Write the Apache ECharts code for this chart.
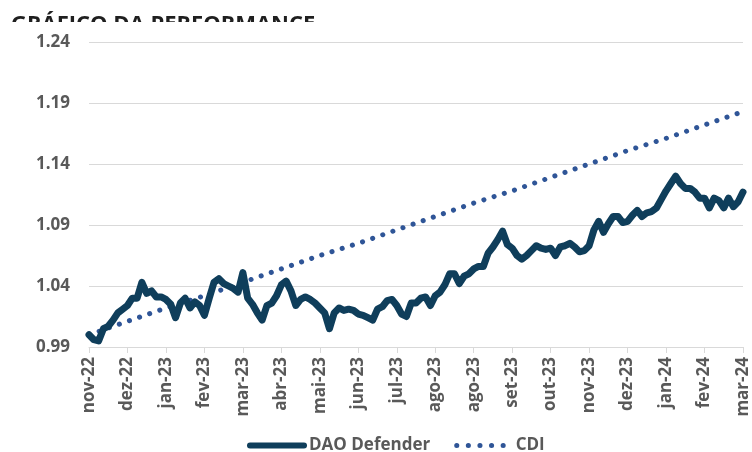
<!DOCTYPE html>
<html>
<head>
<meta charset="utf-8">
<script src="https://cdn.jsdelivr.net/npm/echarts@6/dist/echarts.min.js"></script>
<style>
  html, body { margin: 0; padding: 0; background: #ffffff; }
  #chart { width: 752px; height: 452px; }
</style>
</head>
<body>
<div id="chart"></div>
<script>
const titleText = 'GRÁFICO DA PERFORMANCE';
const tickLabels = ['nov-22','dez-22','jan-23','fev-23','mar-23','abr-23','mai-23','jun-23','jul-23','ago-23','ago-23','set-23','out-23','nov-23','dez-23','jan-24','fev-24','mar-24'];
const yTicks = [0.99, 1.04, 1.09, 1.14, 1.19, 1.24];
const pointsPerTick = 8;

const daoValues = [
  1.000, 0.996, 0.995, 1.005, 1.007, 1.012, 1.018, 1.021,
  1.024, 1.030, 1.030, 1.043, 1.034, 1.036, 1.031, 1.031,
  1.029, 1.025, 1.014, 1.026, 1.030, 1.022, 1.027, 1.024,
  1.016, 1.030, 1.043, 1.046, 1.042, 1.040, 1.038, 1.035,
  1.051, 1.030, 1.025, 1.018, 1.012, 1.024, 1.026, 1.032,
  1.041, 1.044, 1.036, 1.024, 1.029, 1.031, 1.029, 1.026,
  1.022, 1.018, 1.005, 1.018, 1.022, 1.020, 1.021, 1.020,
  1.017, 1.016, 1.014, 1.012, 1.021, 1.023, 1.028, 1.029,
  1.024, 1.017, 1.015, 1.026, 1.026, 1.030, 1.031, 1.024,
  1.032, 1.035, 1.041, 1.050, 1.050, 1.042, 1.048, 1.050,
  1.054, 1.056, 1.056, 1.067, 1.072, 1.078, 1.085, 1.074,
  1.071, 1.065, 1.062, 1.065, 1.069, 1.073, 1.071, 1.070,
  1.071, 1.065, 1.072, 1.073, 1.075, 1.072, 1.068, 1.069,
  1.073, 1.086, 1.093, 1.084, 1.091, 1.097, 1.097, 1.092,
  1.093, 1.098, 1.102, 1.097, 1.100, 1.101, 1.104, 1.111,
  1.118, 1.124, 1.130, 1.124, 1.120, 1.120, 1.117, 1.112,
  1.112, 1.104, 1.112, 1.110, 1.104, 1.112, 1.105, 1.109,
  1.117
];

const cdiValues = [1.000, 1.011, 1.022, 1.032, 1.043, 1.054, 1.065, 1.075, 1.086, 1.097, 1.108, 1.118, 1.129, 1.140, 1.151, 1.161, 1.172, 1.183];

const categories = daoValues.map((_, i) => String(i));
const cdiData = daoValues.map((_, i) => (i % pointsPerTick === 0 ? cdiValues[i / pointsPerTick] : null));

const labelColor = '#595959';
const fontFamily = '"Open Sans", "Noto Sans", sans-serif';
const daoColor = '#0f3e5b';
const cdiColor = '#2f5597';

const chart = echarts.init(document.getElementById('chart'), null, { renderer: 'canvas' });
chart.setOption({
  animation: false,
  backgroundColor: '#ffffff',
  graphic: [
    {
      type: 'text',
      left: 11,
      top: 14,
      z: 1,
      style: {
        text: titleText,
        fill: '#1f1f1f',
        font: 'bold 22px ' + fontFamily
      }
    },
    {
      type: 'rect',
      left: 0,
      top: 22,
      z: 2,
      shape: { width: 752, height: 12 },
      style: { fill: '#ffffff' }
    }
  ],
  grid: { left: 89, right: 9, top: 42, bottom: 105, containLabel: false },
  legend: {
    top: 432,
    left: 242,
    itemWidth: 54,
    itemHeight: 14,
    itemGap: 24,
    itemStyle: { opacity: 0 },
    textStyle: { color: labelColor, fontSize: 17, fontWeight: 'bold', fontFamily: fontFamily },
    data: [
      { name: 'DAO Defender', lineStyle: { width: 6, color: daoColor, cap: 'round' } },
      { name: 'CDI', lineStyle: { width: 5, color: cdiColor, type: [0.1, 11.5], cap: 'round' } }
    ]
  },
  xAxis: {
    type: 'category',
    data: categories,
    boundaryGap: false,
    axisLine: { show: true, lineStyle: { color: '#d9d9d9', width: 1 } },
    axisTick: { show: true, interval: pointsPerTick - 1, length: 6, lineStyle: { color: '#d9d9d9' } },
    axisLabel: {
      interval: pointsPerTick - 1,
      rotate: 90,
      margin: 10,
      color: labelColor,
      fontSize: 17,
      fontWeight: 'bold',
      fontFamily: fontFamily,
      formatter: (val, idx) => (idx % pointsPerTick === 0 ? tickLabels[idx / pointsPerTick] : '')
    },
    splitLine: { show: false }
  },
  yAxis: {
    type: 'value',
    min: yTicks[0],
    max: yTicks[yTicks.length - 1],
    interval: 0.05,
    axisLine: { show: false },
    axisTick: { show: false },
    axisLabel: {
      margin: 19,
      color: labelColor,
      fontSize: 17,
      fontWeight: 'bold',
      fontFamily: fontFamily,
      formatter: v => v.toFixed(2)
    },
    splitLine: { show: true, lineStyle: { color: '#d9d9d9', width: 1 } }
  },
  series: [
    {
      name: 'CDI',
      type: 'line',
      data: cdiData,
      connectNulls: true,
      showSymbol: false,
      symbol: 'none',
      z: 2,
      lineStyle: { color: cdiColor, width: 5, type: [0.1, 10.6], cap: 'round' },
      itemStyle: { color: cdiColor }
    },
    {
      name: 'DAO Defender',
      type: 'line',
      data: daoValues,
      showSymbol: false,
      symbol: 'none',
      z: 3,
      lineStyle: { color: daoColor, width: 7, cap: 'round', join: 'round' },
      itemStyle: { color: daoColor }
    }
  ]
});
</script>
</body>
</html>
